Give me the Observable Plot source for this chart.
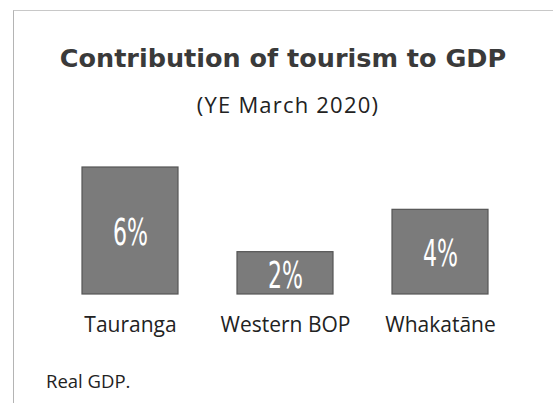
<!DOCTYPE html>
<html>
<head>
<meta charset="utf-8">
<script src="https://cdn.jsdelivr.net/npm/d3@7"></script>
<script src="https://cdn.jsdelivr.net/npm/@observablehq/plot@0.6"></script>
<style>
  html, body { margin: 0; padding: 0; background: #fff; }
  body { width: 553px; height: 403px; position: relative; overflow: hidden; }
  #frame { position: absolute; left: 13px; top: 10px; width: 560px; height: 420px;
           border-left: 1px solid #b4b4b4; border-top: 1px solid #c8c8c8; }
  #title { position: absolute; left: 0; width: 566px; top: 43px; text-align: center;
           font-family: "DejaVu Sans", sans-serif; font-weight: bold; font-size: 25.5px;
           color: #3a3a3a; line-height: 30px; white-space: nowrap; }
  #subtitle { position: absolute; left: 0; width: 576px; top: 89.5px; text-align: center;
           font-family: "Open Sans", Lato, sans-serif; font-size: 22px; color: #222;
           line-height: 28px; letter-spacing: 1.2px; white-space: nowrap; }
  #chart { position: absolute; left: 0; top: 150px; }
  #caption { position: absolute; left: 46px; top: 370px; font-family: "Open Sans", Lato, sans-serif;
           font-size: 18.5px; color: #222; line-height: 22px; }
</style>
</head>
<body>
<div id="frame"></div>
<div id="title">Contribution of tourism to GDP</div>
<div id="subtitle">(YE March 2020)</div>
<div id="chart"></div>
<div id="caption">Real GDP.</div>
<script>
const regions = ["Tauranga", "Western BOP", "Whakatāne"];
const shares = [6, 2, 4];
const labels = ["6%", "2%", "4%"];

const data = regions.map((r, i) => ({region: r, value: shares[i], label: labels[i]}));

const plot = Plot.plot({
  width: 553,
  height: 190,
  marginTop: 17,
  marginBottom: 46,
  marginLeft: 22.6,
  marginRight: 4.8,
  x: {domain: regions, padding: 0.38, label: null},
  y: {domain: [0, 6], axis: null},
  style: {fontFamily: "'Open Sans', Lato, sans-serif", color: "#222", background: "transparent"},
  marks: [
    Plot.barY(data, {x: "region", y: "value", fill: "#7b7b7b", stroke: "#555", strokeWidth: 1.2}),
    Plot.text(data, {x: "region", y: d => d.value / 2, text: "label", fill: "#fff",
      fontSize: 38, fontFamily: "'DejaVu Sans', sans-serif", className: "pct", dy: 2}),
    Plot.axisX({tickSize: 0, tickPadding: 23, fontSize: 21, label: null})
  ]
});
// condense the percentage labels horizontally (narrow display face in the original)
plot.querySelectorAll(".pct text").forEach(t => {
  const tr = t.getAttribute("transform") || "";
  t.setAttribute("transform", tr + " scale(0.58,1)");
});
document.getElementById("chart").appendChild(plot);
</script>
</body>
</html>
